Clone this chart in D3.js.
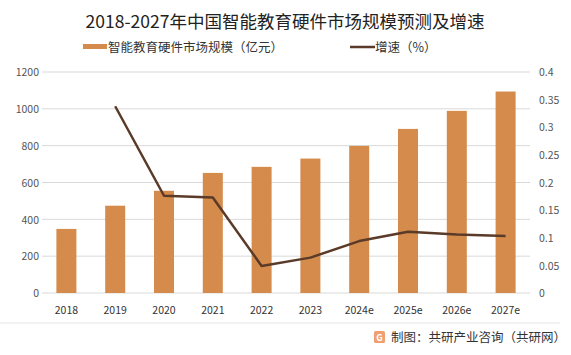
<!DOCTYPE html>
<html><head><meta charset="utf-8">
<script src="https://cdn.jsdelivr.net/npm/d3@7"></script>
<style>body{margin:0;background:#fff}svg{display:block}text{font-family:"Microsoft YaHei","Noto Sans CJK SC",sans-serif}</style>
</head><body><svg id="c" width="571" height="355"></svg>
<script>
const categories=["2018","2019","2020","2021","2022","2023","2024e","2025e","2026e","2027e"];
const sizeValues=[348,474,555,652,685,730,799,891,989,1094];
const growthRate=[null,0.338,0.176,0.173,0.049,0.064,0.094,0.111,0.106,0.103];
const leftTicks=[0,200,400,600,800,1000,1200];
const rightTicks=[0,0.05,0.1,0.15,0.2,0.25,0.3,0.35,0.4];
const title="2018-2027年中国智能教育硬件市场规模预测及增速";
const seriesNames=["智能教育硬件市场规模（亿元）","增速（%）"];
const footer="制图：共研产业咨询（共研网）";

const svg=d3.select("#c");
const L=42,R=530,T=72,B=293;
const x=d3.scaleBand().domain(categories).range([L,R]).paddingInner(0.59).paddingOuter(0.295);
const y=d3.scaleLinear().domain([0,1200]).range([B,T]);
const y2=d3.scaleLinear().domain([0,0.4]).range([B,T]);
const barColor="#D58B4B", lineColor="#5A3A28";

svg.append("text").attr("x",285).attr("y",28).attr("text-anchor","middle").attr("font-size",17.5).attr("fill","#222").text(title);

// legend
svg.append("rect").attr("x",83).attr("y",44).attr("width",24).attr("height",5).attr("fill",barColor);
svg.append("text").attr("x",108).attr("y",51.5).attr("font-size",12.5).attr("fill","#333").text(seriesNames[0]);
svg.append("line").attr("x1",350).attr("x2",375).attr("y1",47).attr("y2",47).attr("stroke",lineColor).attr("stroke-width",2.5);
svg.append("text").attr("x",375).attr("y",51.5).attr("font-size",12.5).attr("fill","#333").text(seriesNames[1]);

// grid
svg.append("g").selectAll("line").data(leftTicks).join("line")
 .attr("x1",L).attr("x2",R).attr("y1",d=>y(d)).attr("y2",d=>y(d)).attr("stroke","#d9d9d9").attr("stroke-width",1);

// left axis
const ga=svg.append("g").attr("transform",`translate(${L-3},0)`).call(d3.axisLeft(y).tickValues(leftTicks).tickSize(0).tickPadding(0).tickFormat(d3.format("d")));
ga.select(".domain").remove();
ga.selectAll("text").attr("font-size",10.5).attr("fill","#555").attr("dy","0.35em");
const gb=svg.append("g").attr("transform",`translate(${R+9},0)`).call(d3.axisRight(y2).tickValues(rightTicks).tickSize(0).tickPadding(0).tickFormat(d=>String(+d.toFixed(2))));
gb.select(".domain").remove();
gb.selectAll("text").attr("font-size",10.5).attr("fill","#555").attr("dy","0.35em");
const gx=svg.append("g").attr("transform",`translate(0,${B})`).call(d3.axisBottom(x).tickSize(0).tickPadding(14));
gx.select(".domain").remove();
gx.selectAll("text").attr("font-size",10.5).attr("fill","#333");

// bars
svg.append("g").selectAll("rect").data(sizeValues).join("rect")
 .attr("x",(d,i)=>x(categories[i])).attr("width",x.bandwidth()).attr("y",d=>y(d)).attr("height",d=>B-y(d)).attr("fill",barColor);

// line
const pts=growthRate.map((v,i)=>[categories[i],v]).filter(d=>d[1]!=null);
svg.append("path").datum(pts).attr("fill","none").attr("stroke",lineColor).attr("stroke-width",2.5).attr("stroke-linejoin","round")
 .attr("d",d3.line().x(d=>x(d[0])+x.bandwidth()/2).y(d=>y2(d[1])));

// bottom separator
svg.append("line").attr("x1",0).attr("x2",560).attr("y1",323).attr("y2",323).attr("stroke","#eee").attr("stroke-width",1.5);

// footer
const fg=svg.append("g");
fg.append("rect").attr("x",374).attr("y",331).attr("width",11).attr("height",12).attr("rx",1.5).attr("fill","#F0A070");
fg.append("text").attr("x",379.5).attr("y",341).attr("text-anchor","middle").attr("font-size",9).attr("font-weight","bold").attr("fill","#fff").text("G");
fg.append("text").attr("x",391).attr("y",342).attr("font-size",12.5).attr("fill","#333").text(footer);
</script></body></html>
